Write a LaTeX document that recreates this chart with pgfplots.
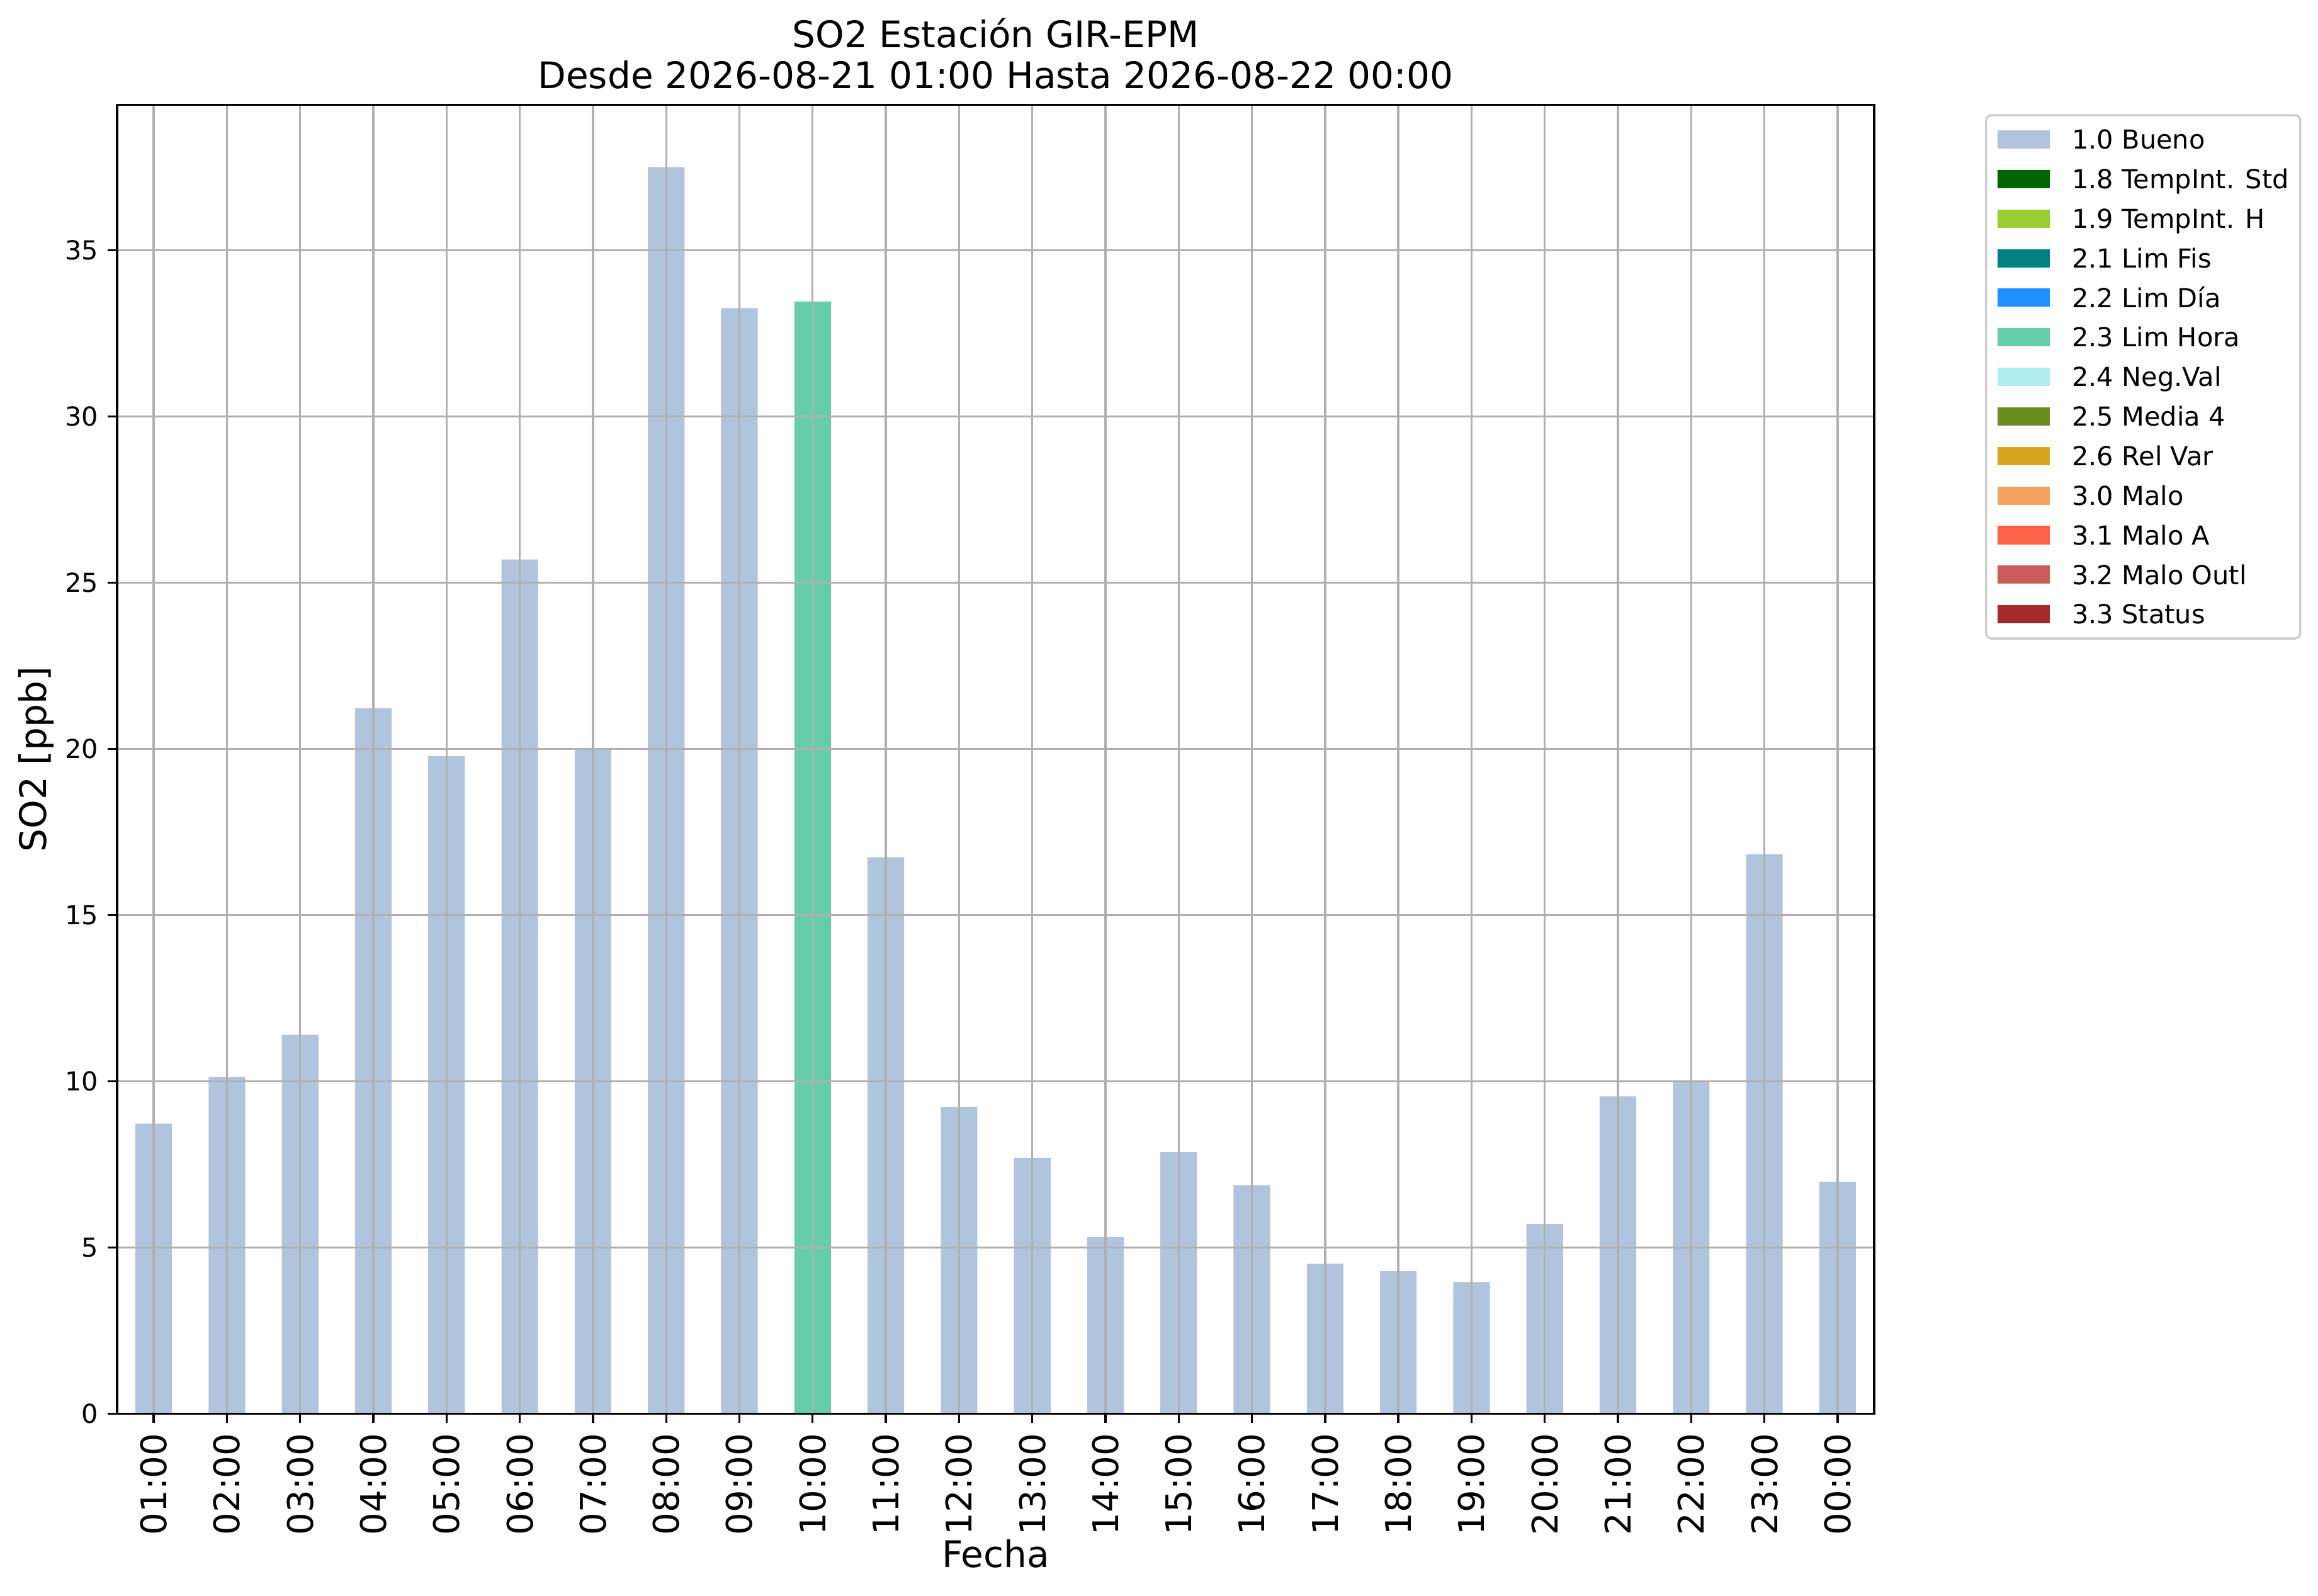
\documentclass[border=0pt]{standalone}
\usepackage{fontspec}
\setmainfont{DejaVu Sans}
\usepackage{pgfplots}
\usepackage{pgfplotstable}
\pgfplotsset{compat=1.18}
\definecolor{cBueno}{HTML}{B0C4DE}
\definecolor{cTStd}{HTML}{006400}
\definecolor{cTH}{HTML}{9ACD32}
\definecolor{cFis}{HTML}{008080}
\definecolor{cDia}{HTML}{1E90FF}
\definecolor{cHora}{HTML}{66CDAA}
\definecolor{cNeg}{HTML}{AFEEEE}
\definecolor{cMedia}{HTML}{6B8E23}
\definecolor{cRel}{HTML}{DAA520}
\definecolor{cMalo}{HTML}{F4A460}
\definecolor{cMaloA}{HTML}{FF6347}
\definecolor{cOutl}{HTML}{CD5C5C}
\definecolor{cStatus}{HTML}{A52A2A}
\definecolor{gridc}{HTML}{B0B0B0}
\pgfplotstableread{
x y
0 8.73
1 10.13
2 11.40
3 21.22
4 19.78
5 25.70
6 19.97
7 37.50
8 33.26
9 0
10 16.74
11 9.23
12 7.70
13 5.31
14 7.87
15 6.88
16 4.51
17 4.29
18 3.96
19 5.71
20 9.55
21 9.97
22 16.83
23 6.98
}\bueno
\pgfplotstableread{
x y
9 33.45
}\limhora
\pgfplotsset{myleg/.style={legend image code/.code={\fill[sharp corners] (0pt,-3.5pt) rectangle (20pt,3.5pt);}}}
\begin{document}
\begin{tikzpicture}
\begin{axis}[
  at={(0pt,0pt)}, anchor=south west,
  scale only axis, width=672.3pt, height=500.8pt,
  xmin=-0.5, xmax=23.5, ymin=0, ymax=39.375,
  xtick={0,...,23},
  xticklabels={01:00,02:00,03:00,04:00,05:00,06:00,07:00,08:00,09:00,10:00,11:00,12:00,13:00,14:00,15:00,16:00,17:00,18:00,19:00,20:00,21:00,22:00,23:00,00:00},
  ytick={0,5,...,35},
  /pgf/number format/assume math mode=true,
  tick align=outside, xtick pos=bottom, ytick pos=left,
  major tick length=3.5pt,
  tick style={line width=0.8pt, black},
  axis line style={line width=0.8pt, black},
  grid=major, major grid style={line width=0.8pt, gridc},
  axis on top, clip=false,
  xticklabel style={rotate=90, anchor=east, inner sep=0pt, font=\fontsize{13.5}{16}\selectfont},
  yticklabel style={anchor=east, inner sep=0pt, font=\fontsize{10}{12}\selectfont},
  xticklabel shift=3.8pt, yticklabel shift=3.5pt,
  xlabel={Fecha}, ylabel={SO2 [ppb]},
  xlabel style={at={(axis description cs:0.5,0)}, anchor=base, yshift=-58.7pt, inner sep=0pt, font=\fontsize{14}{16}\selectfont},
  ylabel style={at={(axis description cs:0,0.5)}, anchor=south, yshift=24.1pt, inner sep=0pt, font=\fontsize{14}{16}\selectfont},
  legend cell align=left,
  legend style={at={(1,1)}, anchor=north west, xshift=42.4pt, yshift=-3.6pt,
    draw=black!20, line width=0.8pt, rounded corners=2pt,
    inner xsep=4.3pt, inner ysep=4.25pt, row sep=5.14pt, column sep=8.6pt,
    font=\fontsize{10}{12}\selectfont,
    nodes={inner sep=0pt, text height=8.65pt, text depth=1.35pt}},
]
\addplot[ybar, bar width=0.5, bar shift=0pt, fill=cBueno, draw=none, myleg] table[x=x,y=y] {\bueno};
\addlegendentry{1.0 Bueno}
\addlegendimage{fill=cTStd, draw=none, myleg}\addlegendentry{1.8 TempInt. Std}
\addlegendimage{fill=cTH, draw=none, myleg}\addlegendentry{1.9 TempInt. H}
\addlegendimage{fill=cFis, draw=none, myleg}\addlegendentry{2.1 Lim Fis}
\addlegendimage{fill=cDia, draw=none, myleg}\addlegendentry{2.2 Lim Día}
\addplot[ybar, bar width=0.5, bar shift=0pt, fill=cHora, draw=none, myleg] table[x=x,y=y] {\limhora};
\addlegendentry{2.3 Lim Hora}
\addlegendimage{fill=cNeg, draw=none, myleg}\addlegendentry{2.4 Neg.Val}
\addlegendimage{fill=cMedia, draw=none, myleg}\addlegendentry{2.5 Media 4}
\addlegendimage{fill=cRel, draw=none, myleg}\addlegendentry{2.6 Rel Var}
\addlegendimage{fill=cMalo, draw=none, myleg}\addlegendentry{3.0 Malo}
\addlegendimage{fill=cMaloA, draw=none, myleg}\addlegendentry{3.1 Malo A}
\addlegendimage{fill=cOutl, draw=none, myleg}\addlegendentry{3.2 Malo Outl}
\addlegendimage{fill=cStatus, draw=none, myleg}\addlegendentry{3.3 Status}
\node[anchor=base, inner sep=0pt, font=\fontsize{14}{16}\selectfont] at (axis description cs:0.5,1) [yshift=6.3pt] {Desde 2026-08-21 01:00 Hasta 2026-08-22 00:00};
\node[anchor=base, inner sep=0pt, font=\fontsize{14}{16}\selectfont] at (axis description cs:0.5,1) [yshift=22pt] {SO2 Estación GIR-EPM};
\end{axis}
\pgfresetboundingbox
\path[use as bounding box] (-44.8pt,-69.5pt) rectangle (842.1pt,540.9pt);
\end{tikzpicture}
\end{document}
